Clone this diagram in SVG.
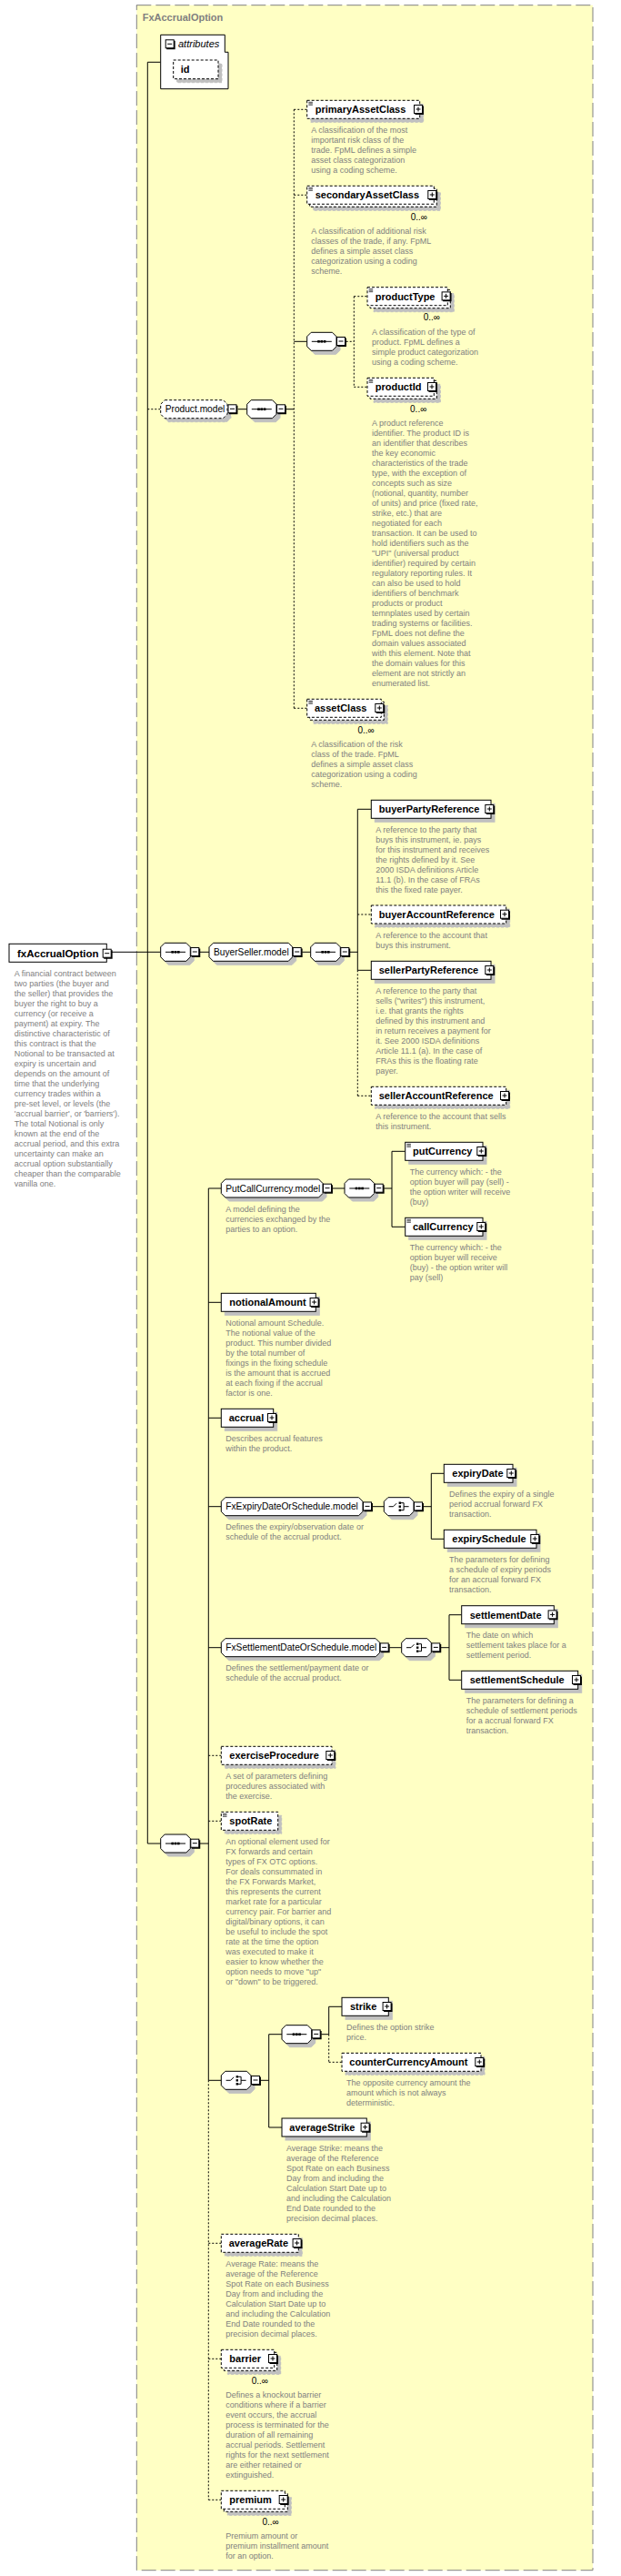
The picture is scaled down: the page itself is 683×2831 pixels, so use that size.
<svg xmlns="http://www.w3.org/2000/svg" width="683" height="2831" viewBox="0 0 683 2831">
<defs>
<style>
.ct{fill:#ffffc4;stroke:#808080;stroke-dasharray:16 5}
.el{fill:#fff;stroke:#000;stroke-width:1}
.op{stroke-dasharray:3 2}
.sd{filter:url(#sh)}
.nm{font-family:"Liberation Sans",Arial,sans-serif;font-weight:bold;font-size:11px;fill:#000}
.gl{font-family:"Liberation Sans",Arial,sans-serif;font-size:10.2px;fill:#000}
.ds{font-family:"Liberation Sans",Arial,sans-serif;font-size:9px;fill:#808080}
.oc{font-family:"Liberation Sans",Arial,sans-serif;font-size:10px;fill:#000;text-anchor:end}
.c{fill:none;stroke:#000;stroke-width:1}
.d{stroke-dasharray:2 2}
</style>
<filter id="sh" x="-10%" y="-20%" width="140%" height="170%" color-interpolation-filters="sRGB">
<feFlood flood-color="#c0c0c0" result="f"/>
<feComposite in="f" in2="SourceAlpha" operator="in" result="s"/>
<feOffset in="s" dx="4" dy="4" result="o"/>
<feMerge><feMergeNode in="o"/><feMergeNode in="SourceGraphic"/></feMerge>
</filter>
<g id="pl"><rect x="0.5" y="0.5" width="9" height="9" fill="#fff" stroke="#000"/><path d="M10.2,1.5V10.2H1.5" fill="none" stroke="#000" stroke-width="1.5"/><path d="M2.5,5H7.5M5,2.5V7.5" stroke="#000" fill="none"/></g>
<g id="mi"><rect x="0.5" y="0.5" width="9" height="9" fill="#fff" stroke="#000"/><path d="M10.2,1.5V10.2H1.5" fill="none" stroke="#000" stroke-width="1.5"/><path d="M2.5,5H7.5" stroke="#000" fill="none"/></g>
<g id="eq"><path d="M0,0.5H4.5M0,2H4.5M0,3.5H4.5" stroke="#000" stroke-width="0.7" fill="none"/></g>
<g id="sq"><path d="M-11,0H11" stroke="#000" fill="none"/><rect x="-4.6" y="-1.3" width="2.6" height="2.6"/><rect x="-1.3" y="-1.3" width="2.6" height="2.6"/><rect x="2" y="-1.3" width="2.6" height="2.6"/></g>
<g id="ch"><path d="M-11,0H-6L-2.5,-3.5M2.4,-4H5.5V4H2.4M5.5,0H11" stroke="#000" fill="none"/><rect x="0" y="-5.2" width="2.4" height="2.4"/><rect x="0" y="-1.2" width="2.4" height="2.4"/><rect x="0" y="2.8" width="2.4" height="2.4"/></g>
</defs>

<rect x="0" y="0" width="683" height="2831" fill="#fff"/>

<g id="type-FxAccrualOption">
<rect class="ct" x="150.3" y="5.7" width="501.7" height="2819"/>
<text x="156.7" y="23" style="font-family:'Liberation Sans',Arial,sans-serif;font-size:11px;font-weight:bold;fill:#808080">FxAccrualOption</text>
</g>

<g id="connectors">
<path class="c" d="M162.3,68.3V2026M162.3,68.3H176.7M122.7,1046.3H176.7M162.3,2026H176.7"/>
<path class="c d" d="M162.3,449.7H176.7"/>
<path class="c" d="M261.7,449.7H271.7M314.7,449.7H323.3M323.3,375.3H337.7"/>
<path class="c d" d="M323.3,120.3V778.3M323.3,120.3H337.7M323.3,214.3H337.7M323.3,778.3H337.7M380.7,375.3H389.3M389.3,325.7V425.3M389.3,325.7H404M389.3,425.3H404"/>
<path class="c" d="M220,1046.3H230M332.3,1046.3H341.7M385,1046.3H393.3M393.3,889.3V1066.3M393.3,889.3H408.3M393.3,1066.3H408.3"/>
<path class="c d" d="M393.3,1066.3V1204.3M393.3,1005H408.3M393.3,1204.3H408.3"/>
<path class="c" d="M220,2026H229.3M229.3,1306V2286.3M229.3,1306H243.3M229.3,1431.3H243.3M229.3,1558.3H243.3M229.3,1655.7H243.3M229.3,1810.7H243.3M229.3,2286.3H243.3"/>
<path class="c d" d="M229.3,2286.3V2747.3M229.3,1929.3H243.3M229.3,2001.3H243.3M229.3,2465.3H243.3M229.3,2592.3H243.3M229.3,2747.3H243.3"/>
<path class="c" d="M365.7,1306H379M422.3,1306H431M431,1265.3V1348.3M431,1265.3H445.7M431,1348.3H445.7"/>
<path class="c" d="M409.7,1655.7H422.3M465.7,1655.7H474.3M474.3,1619.3V1691.3M474.3,1619.3H488.3M474.3,1691.3H488.3"/>
<path class="c" d="M428.3,1810.7H441.7M485,1810.7H494M494,1774.7V1846.3M494,1774.7H507.7M494,1846.3H507.7"/>
<path class="c" d="M286.7,2286.3H295.7M295.7,2235.7V2338M295.7,2235.7H310M295.7,2338H310M353.3,2235.7H361.7M361.7,2205.3V2235.7M361.7,2205.3H376"/>
<path class="c d" d="M361.7,2235.7V2266.3M361.7,2266.3H376"/>
</g>

<g id="fxAccrualOption">
<rect class="el" x="10" y="1037.3" width="107.3" height="20"/>
<text class="nm" x="19" y="1051.5" style="font-size:11.5px">fxAccrualOption</text>
<use href="#mi" x="112.7" y="1042.7"/>
<text class="ds" x="15.7" y="1073.3"><tspan x="15.7">A financial contract between</tspan><tspan x="15.7" dy="11">two parties (the buyer and</tspan><tspan x="15.7" dy="11">the seller) that provides the</tspan><tspan x="15.7" dy="11">buyer the right to buy a</tspan><tspan x="15.7" dy="11">currency (or receive a</tspan><tspan x="15.7" dy="11">payment) at expiry. The</tspan><tspan x="15.7" dy="11">distinctive characteristic of</tspan><tspan x="15.7" dy="11">this contract is that the</tspan><tspan x="15.7" dy="11">Notional to be transacted at</tspan><tspan x="15.7" dy="11">expiry is uncertain and</tspan><tspan x="15.7" dy="11">depends on the amount of</tspan><tspan x="15.7" dy="11">time that the underlying</tspan><tspan x="15.7" dy="11">currency trades within a</tspan><tspan x="15.7" dy="11">pre-set level, or levels (the</tspan><tspan x="15.7" dy="11">'accrual barrier', or 'barriers').</tspan><tspan x="15.7" dy="11">The total Notional is only</tspan><tspan x="15.7" dy="11">known at the end of the</tspan><tspan x="15.7" dy="11">accrual period, and this extra</tspan><tspan x="15.7" dy="11">uncertainty can make an</tspan><tspan x="15.7" dy="11">accrual option substantially</tspan><tspan x="15.7" dy="11">cheaper than the comparable</tspan><tspan x="15.7" dy="11">vanilla one.</tspan></text>
</g>

<g id="attributes">
<path class="el" d="M176.7,38.3H247.3V57.3H251V97.7H176.7Z"/>
<use href="#mi" x="181.7" y="43.3"/>
<text x="196" y="52" style="font-family:'Liberation Sans',Arial,sans-serif;font-size:11px;font-style:italic;fill:#000">attributes</text>
</g>
<g id="attr-id">
<rect class="el op sd" x="190.7" y="66" width="49.3" height="20.7"/>
<text class="nm" x="198.7" y="80">id</text>
</g>

<g id="Product.model">
<polygon class="el op sd" points="181.2,439.7 245.5,439.7 250,444.2 250,455.2 245.5,459.7 181.2,459.7 176.7,455.2 176.7,444.2"/>
<text class="gl" x="181.7" y="453.3">Product.model</text>
<use href="#mi" x="250.5" y="444.3"/>
</g>
<g id="seq-product">
<polygon class="el sd" points="276.2,439.7 299.5,439.7 304,444.2 304,455.2 299.5,459.7 276.2,459.7 271.7,455.2 271.7,444.2"/>
<use href="#sq" x="287.8" y="449.7"/>
<use href="#mi" x="304" y="444.3"/>
</g>
<g id="seq-producttype">
<polygon class="el sd" points="342.2,365.3 365.5,365.3 370,369.8 370,380.8 365.5,385.3 342.2,385.3 337.7,380.8 337.7,369.8"/>
<use href="#sq" x="353.8" y="375.3"/>
<use href="#mi" x="370" y="370"/>
</g>

<g id="primaryAssetClass">
<rect class="el op sd" x="337.7" y="110.3" width="124" height="20"/>
<use href="#eq" x="339.4" y="111.8"/>
<text class="nm" x="346.7" y="124.3">primaryAssetClass</text>
<use href="#pl" x="455" y="115"/>
<text class="ds" x="342.3" y="146"><tspan x="342.3">A classification of the most</tspan><tspan x="342.3" dy="11">important risk class of the</tspan><tspan x="342.3" dy="11">trade. FpML defines a simple</tspan><tspan x="342.3" dy="11">asset class categorization</tspan><tspan x="342.3" dy="11">using a coding scheme.</tspan></text>
</g>

<g id="secondaryAssetClass">
<rect class="el op sd" x="340.7" y="207.3" width="139.6" height="20"/>
<rect class="el op" x="337.7" y="204.3" width="139.6" height="20"/>
<use href="#eq" x="339.4" y="205.8"/>
<text class="nm" x="346.7" y="218.3">secondaryAssetClass</text>
<use href="#pl" x="470.3" y="209"/>
<text class="oc" x="470" y="242">0..∞</text>
<text class="ds" x="342.3" y="257"><tspan x="342.3">A classification of additional risk</tspan><tspan x="342.3" dy="11">classes of the trade, if any. FpML</tspan><tspan x="342.3" dy="11">defines a simple asset class</tspan><tspan x="342.3" dy="11">categorization using a coding</tspan><tspan x="342.3" dy="11">scheme.</tspan></text>
</g>

<g id="productType">
<rect class="el op sd" x="407" y="318.7" width="88.3" height="20"/>
<rect class="el op" x="404" y="315.7" width="88.3" height="20"/>
<use href="#eq" x="405.7" y="317.2"/>
<text class="nm" x="412.7" y="329.7">productType</text>
<use href="#pl" x="485.6" y="320.4"/>
<text class="oc" x="484" y="352">0..∞</text>
<text class="ds" x="409" y="368"><tspan x="409">A classification of the type of</tspan><tspan x="409" dy="11">product. FpML defines a</tspan><tspan x="409" dy="11">simple product categorization</tspan><tspan x="409" dy="11">using a coding scheme.</tspan></text>
</g>

<g id="productId">
<rect class="el op sd" x="407" y="418.3" width="73.3" height="20"/>
<rect class="el op" x="404" y="415.3" width="73.3" height="20"/>
<use href="#eq" x="405.7" y="416.8"/>
<text class="nm" x="412.7" y="429.3">productId</text>
<use href="#pl" x="470" y="420"/>
<text class="oc" x="469.3" y="452.5">0..∞</text>
<text class="ds" x="409" y="468"><tspan x="409">A product reference</tspan><tspan x="409" dy="11">identifier. The product ID is</tspan><tspan x="409" dy="11">an identifier that describes</tspan><tspan x="409" dy="11">the key economic</tspan><tspan x="409" dy="11">characteristics of the trade</tspan><tspan x="409" dy="11">type, with the exception of</tspan><tspan x="409" dy="11">concepts such as size</tspan><tspan x="409" dy="11">(notional, quantity, number</tspan><tspan x="409" dy="11">of units) and price (fixed rate,</tspan><tspan x="409" dy="11">strike, etc.) that are</tspan><tspan x="409" dy="11">negotiated for each</tspan><tspan x="409" dy="11">transaction. It can be used to</tspan><tspan x="409" dy="11">hold identifiers such as the</tspan><tspan x="409" dy="11">"UPI" (universal product</tspan><tspan x="409" dy="11">identifier) required by certain</tspan><tspan x="409" dy="11">regulatory reporting rules. It</tspan><tspan x="409" dy="11">can also be used to hold</tspan><tspan x="409" dy="11">identifiers of benchmark</tspan><tspan x="409" dy="11">products or product</tspan><tspan x="409" dy="11">temnplates used by certain</tspan><tspan x="409" dy="11">trading systems or facilities.</tspan><tspan x="409" dy="11">FpML does not define the</tspan><tspan x="409" dy="11">domain values associated</tspan><tspan x="409" dy="11">with this element. Note that</tspan><tspan x="409" dy="11">the domain values for this</tspan><tspan x="409" dy="11">element are not strictly an</tspan><tspan x="409" dy="11">enumerated list.</tspan></text>
</g>

<g id="assetClass">
<rect class="el op sd" x="340.7" y="771.3" width="81.6" height="20"/>
<rect class="el op" x="337.7" y="768.3" width="81.6" height="20"/>
<use href="#eq" x="339.4" y="769.8"/>
<text class="nm" x="346" y="782.3">assetClass</text>
<use href="#pl" x="412.3" y="773"/>
<text class="oc" x="411.7" y="806">0..∞</text>
<text class="ds" x="342.3" y="820.6"><tspan x="342.3">A classification of the risk</tspan><tspan x="342.3" dy="11">class of the trade. FpML</tspan><tspan x="342.3" dy="11">defines a simple asset class</tspan><tspan x="342.3" dy="11">categorization using a coding</tspan><tspan x="342.3" dy="11">scheme.</tspan></text>
</g>

<g id="seq-main">
<polygon class="el sd" points="181.2,1036.3 204.8,1036.3 209.3,1040.8 209.3,1051.8 204.8,1056.3 181.2,1056.3 176.7,1051.8 176.7,1040.8"/>
<use href="#sq" x="193" y="1046.3"/>
<use href="#mi" x="209.3" y="1041"/>
</g>
<g id="BuyerSeller.model">
<polygon class="el sd" points="234.5,1036.3 317.2,1036.3 321.7,1040.8 321.7,1051.8 317.2,1056.3 234.5,1056.3 230,1051.8 230,1040.8"/>
<text class="gl" x="235" y="1049.9">BuyerSeller.model</text>
<use href="#mi" x="321.7" y="1041"/>
</g>
<g id="seq-buyerseller">
<polygon class="el sd" points="346.2,1036.3 369.8,1036.3 374.3,1040.8 374.3,1051.8 369.8,1056.3 346.2,1056.3 341.7,1051.8 341.7,1040.8"/>
<use href="#sq" x="358" y="1046.3"/>
<use href="#mi" x="374.3" y="1041"/>
</g>

<g id="buyerPartyReference">
<rect class="el sd" x="408.3" y="879.3" width="131.7" height="20"/>
<text class="nm" x="416.7" y="893.3">buyerPartyReference</text>
<use href="#pl" x="533.3" y="884"/>
<text class="ds" x="413.3" y="915"><tspan x="413.3">A reference to the party that</tspan><tspan x="413.3" dy="11">buys this instrument, ie. pays</tspan><tspan x="413.3" dy="11">for this instrument and receives</tspan><tspan x="413.3" dy="11">the rights defined by it. See</tspan><tspan x="413.3" dy="11">2000 ISDA definitions Article</tspan><tspan x="413.3" dy="11">11.1 (b). In the case of FRAs</tspan><tspan x="413.3" dy="11">this the fixed rate payer.</tspan></text>
</g>
<g id="buyerAccountReference">
<rect class="el op sd" x="408.3" y="995" width="148.4" height="20"/>
<text class="nm" x="416.7" y="1009">buyerAccountReference</text>
<use href="#pl" x="550" y="999.7"/>
<text class="ds" x="413.3" y="1030.6"><tspan x="413.3">A reference to the account that</tspan><tspan x="413.3" dy="11">buys this instrument.</tspan></text>
</g>
<g id="sellerPartyReference">
<rect class="el sd" x="408.3" y="1056.3" width="131.7" height="20"/>
<text class="nm" x="416.7" y="1070.3">sellerPartyReference</text>
<use href="#pl" x="533.3" y="1061"/>
<text class="ds" x="413.3" y="1092"><tspan x="413.3">A reference to the party that</tspan><tspan x="413.3" dy="11">sells ("writes") this instrument,</tspan><tspan x="413.3" dy="11">i.e. that grants the rights</tspan><tspan x="413.3" dy="11">defined by this instrument and</tspan><tspan x="413.3" dy="11">in return receives a payment for</tspan><tspan x="413.3" dy="11">it. See 2000 ISDA definitions</tspan><tspan x="413.3" dy="11">Article 11.1 (a). In the case of</tspan><tspan x="413.3" dy="11">FRAs this is the floating rate</tspan><tspan x="413.3" dy="11">payer.</tspan></text>
</g>
<g id="sellerAccountReference">
<rect class="el op sd" x="408.3" y="1194.3" width="148.4" height="20"/>
<text class="nm" x="416.7" y="1208.3">sellerAccountReference</text>
<use href="#pl" x="550" y="1199"/>
<text class="ds" x="413.3" y="1229.6"><tspan x="413.3">A reference to the account that sells</tspan><tspan x="413.3" dy="11">this instrument.</tspan></text>
</g>

<g id="seq-bottom">
<polygon class="el sd" points="181.2,2016 204.8,2016 209.3,2020.5 209.3,2031.5 204.8,2036 181.2,2036 176.7,2031.5 176.7,2020.5"/>
<use href="#sq" x="193" y="2026"/>
<use href="#mi" x="209.3" y="2020.7"/>
</g>

<g id="PutCallCurrency.model">
<polygon class="el sd" points="247.8,1296 350.5,1296 355,1300.5 355,1311.5 350.5,1316 247.8,1316 243.3,1311.5 243.3,1300.5"/>
<text class="gl" x="248.3" y="1309.6">PutCallCurrency.model</text>
<use href="#mi" x="355" y="1300.7"/>
<text class="ds" x="248.3" y="1332"><tspan x="248.3">A model defining the</tspan><tspan x="248.3" dy="11">currencies exchanged by the</tspan><tspan x="248.3" dy="11">parties to an option.</tspan></text>
</g>
<g id="seq-putcall">
<polygon class="el sd" points="383.5,1296 407.2,1296 411.7,1300.5 411.7,1311.5 407.2,1316 383.5,1316 379,1311.5 379,1300.5"/>
<use href="#sq" x="395.3" y="1306"/>
<use href="#mi" x="411.7" y="1300.7"/>
</g>
<g id="putCurrency">
<rect class="el sd" x="445.7" y="1255.3" width="85.3" height="20"/>
<use href="#eq" x="447.4" y="1256.8"/>
<text class="nm" x="454" y="1269.3">putCurrency</text>
<use href="#pl" x="524.3" y="1260"/>
<text class="ds" x="450.7" y="1291.3"><tspan x="450.7">The currency which: - the</tspan><tspan x="450.7" dy="11">option buyer will pay (sell) -</tspan><tspan x="450.7" dy="11">the option writer will receive</tspan><tspan x="450.7" dy="11">(buy)</tspan></text>
</g>
<g id="callCurrency">
<rect class="el sd" x="445.7" y="1338.3" width="85.3" height="20"/>
<use href="#eq" x="447.4" y="1339.8"/>
<text class="nm" x="454" y="1352.3">callCurrency</text>
<use href="#pl" x="524.3" y="1343"/>
<text class="ds" x="450.7" y="1374"><tspan x="450.7">The currency which: - the</tspan><tspan x="450.7" dy="11">option buyer will receive</tspan><tspan x="450.7" dy="11">(buy) - the option writer will</tspan><tspan x="450.7" dy="11">pay (sell)</tspan></text>
</g>

<g id="notionalAmount">
<rect class="el sd" x="243.3" y="1421.3" width="104" height="20"/>
<text class="nm" x="252.3" y="1435.3">notionalAmount</text>
<use href="#pl" x="340.6" y="1426"/>
<text class="ds" x="248.3" y="1457"><tspan x="248.3">Notional amount Schedule.</tspan><tspan x="248.3" dy="11">The notional value of the</tspan><tspan x="248.3" dy="11">product. This number divided</tspan><tspan x="248.3" dy="11">by the total number of</tspan><tspan x="248.3" dy="11">fixings in the fixing schedule</tspan><tspan x="248.3" dy="11">is the amount that is accrued</tspan><tspan x="248.3" dy="11">at each fixing if the accrual</tspan><tspan x="248.3" dy="11">factor is one.</tspan></text>
</g>
<g id="accrual">
<rect class="el sd" x="243.3" y="1548.3" width="57.4" height="20"/>
<text class="nm" x="251.7" y="1562.3">accrual</text>
<use href="#pl" x="294" y="1553"/>
<text class="ds" x="248.3" y="1584"><tspan x="248.3">Describes accrual features</tspan><tspan x="248.3" dy="11">within the product.</tspan></text>
</g>

<g id="FxExpiryDateOrSchedule.model">
<polygon class="el sd" points="247.8,1645.7 394.5,1645.7 399,1650.2 399,1661.2 394.5,1665.7 247.8,1665.7 243.3,1661.2 243.3,1650.2"/>
<text class="gl" x="248.3" y="1659.3">FxExpiryDateOrSchedule.model</text>
<use href="#mi" x="399" y="1650.4"/>
<text class="ds" x="248.3" y="1681"><tspan x="248.3">Defines the expiry/observation date or</tspan><tspan x="248.3" dy="11">schedule of the accrual product.</tspan></text>
</g>
<g id="choice-expiry">
<polygon class="el sd" points="426.8,1645.7 450.5,1645.7 455,1650.2 455,1661.2 450.5,1665.7 426.8,1665.7 422.3,1661.2 422.3,1650.2"/>
<use href="#ch" x="438.6" y="1655.7"/>
<use href="#mi" x="455" y="1650.4"/>
</g>
<g id="expiryDate">
<rect class="el sd" x="488.3" y="1609.3" width="75.7" height="20"/>
<text class="nm" x="497.3" y="1623.3">expiryDate</text>
<use href="#pl" x="557.3" y="1614"/>
<text class="ds" x="494" y="1645"><tspan x="494">Defines the expiry of a single</tspan><tspan x="494" dy="11">period accrual forward FX</tspan><tspan x="494" dy="11">transaction.</tspan></text>
</g>
<g id="expirySchedule">
<rect class="el sd" x="488.3" y="1681.3" width="101.7" height="20"/>
<text class="nm" x="497.3" y="1695.3">expirySchedule</text>
<use href="#pl" x="583.3" y="1686"/>
<text class="ds" x="494" y="1717"><tspan x="494">The parameters for defining</tspan><tspan x="494" dy="11">a schedule of expiry periods</tspan><tspan x="494" dy="11">for an accrual forward FX</tspan><tspan x="494" dy="11">transaction.</tspan></text>
</g>

<g id="FxSettlementDateOrSchedule.model">
<polygon class="el sd" points="247.8,1800.7 413.2,1800.7 417.7,1805.2 417.7,1816.2 413.2,1820.7 247.8,1820.7 243.3,1816.2 243.3,1805.2"/>
<text class="gl" x="248.3" y="1814.3">FxSettlementDateOrSchedule.model</text>
<use href="#mi" x="417.7" y="1805.4"/>
<text class="ds" x="248.3" y="1836"><tspan x="248.3">Defines the settlement/payment date or</tspan><tspan x="248.3" dy="11">schedule of the accrual product.</tspan></text>
</g>
<g id="choice-settlement">
<polygon class="el sd" points="446.2,1800.7 469.8,1800.7 474.3,1805.2 474.3,1816.2 469.8,1820.7 446.2,1820.7 441.7,1816.2 441.7,1805.2"/>
<use href="#ch" x="458" y="1810.7"/>
<use href="#mi" x="474.3" y="1805.4"/>
</g>
<g id="settlementDate">
<rect class="el sd" x="507.7" y="1764.7" width="101.6" height="20"/>
<text class="nm" x="516.7" y="1778.7">settlementDate</text>
<use href="#pl" x="602.6" y="1769.4"/>
<text class="ds" x="512.7" y="1799.6"><tspan x="512.7">The date on which</tspan><tspan x="512.7" dy="11">settlement takes place for a</tspan><tspan x="512.7" dy="11">settlement period.</tspan></text>
</g>
<g id="settlementSchedule">
<rect class="el sd" x="507.7" y="1836.3" width="128" height="20"/>
<text class="nm" x="516.7" y="1850.3">settlementSchedule</text>
<use href="#pl" x="629" y="1841"/>
<text class="ds" x="512.7" y="1872"><tspan x="512.7">The parameters for defining a</tspan><tspan x="512.7" dy="11">schedule of settlement periods</tspan><tspan x="512.7" dy="11">for a accrual forward FX</tspan><tspan x="512.7" dy="11">transaction.</tspan></text>
</g>

<g id="exerciseProcedure">
<rect class="el op sd" x="243.3" y="1919.3" width="121.7" height="20"/>
<text class="nm" x="252.3" y="1933.3">exerciseProcedure</text>
<use href="#pl" x="358.3" y="1924"/>
<text class="ds" x="248.3" y="1955.3"><tspan x="248.3">A set of parameters defining</tspan><tspan x="248.3" dy="11">procedures associated with</tspan><tspan x="248.3" dy="11">the exercise.</tspan></text>
</g>
<g id="spotRate">
<rect class="el op sd" x="243.3" y="1991.3" width="62.4" height="20"/>
<use href="#eq" x="245" y="1992.8"/>
<text class="nm" x="252.3" y="2005.3">spotRate</text>
<text class="ds" x="248.3" y="2027"><tspan x="248.3">An optional element used for</tspan><tspan x="248.3" dy="11">FX forwards and certain</tspan><tspan x="248.3" dy="11">types of FX OTC options.</tspan><tspan x="248.3" dy="11">For deals consummated in</tspan><tspan x="248.3" dy="11">the FX Forwards Market,</tspan><tspan x="248.3" dy="11">this represents the current</tspan><tspan x="248.3" dy="11">market rate for a particular</tspan><tspan x="248.3" dy="11">currency pair. For barrier and</tspan><tspan x="248.3" dy="11">digital/binary options, it can</tspan><tspan x="248.3" dy="11">be useful to include the spot</tspan><tspan x="248.3" dy="11">rate at the time the option</tspan><tspan x="248.3" dy="11">was executed to make it</tspan><tspan x="248.3" dy="11">easier to know whether the</tspan><tspan x="248.3" dy="11">option needs to move "up"</tspan><tspan x="248.3" dy="11">or "down" to be triggered.</tspan></text>
</g>

<g id="choice-strike">
<polygon class="el sd" points="247.8,2276.3 271.5,2276.3 276,2280.8 276,2291.8 271.5,2296.3 247.8,2296.3 243.3,2291.8 243.3,2280.8"/>
<use href="#ch" x="259.6" y="2286.3"/>
<use href="#mi" x="276" y="2281"/>
</g>
<g id="seq-strike">
<polygon class="el sd" points="314.5,2225.7 338.2,2225.7 342.7,2230.2 342.7,2241.2 338.2,2245.7 314.5,2245.7 310,2241.2 310,2230.2"/>
<use href="#sq" x="326.3" y="2235.7"/>
<use href="#mi" x="342.7" y="2230.4"/>
</g>
<g id="strike">
<rect class="el sd" x="376" y="2195.3" width="51.3" height="20"/>
<text class="nm" x="385" y="2209.3">strike</text>
<use href="#pl" x="420.6" y="2200"/>
<text class="ds" x="381" y="2231"><tspan x="381">Defines the option strike</tspan><tspan x="381" dy="11">price.</tspan></text>
</g>
<g id="counterCurrencyAmount">
<rect class="el op sd" x="376" y="2256.3" width="153" height="20"/>
<text class="nm" x="384.3" y="2270.3">counterCurrencyAmount</text>
<use href="#pl" x="522.3" y="2261"/>
<text class="ds" x="381" y="2291.6"><tspan x="381">The opposite currency amount the</tspan><tspan x="381" dy="11">amount which is not always</tspan><tspan x="381" dy="11">deterministic.</tspan></text>
</g>
<g id="averageStrike">
<rect class="el sd" x="310" y="2328" width="93.3" height="20"/>
<text class="nm" x="318.3" y="2342">averageStrike</text>
<use href="#pl" x="396.6" y="2332.7"/>
<text class="ds" x="315" y="2364"><tspan x="315">Average Strike: means the</tspan><tspan x="315" dy="11">average of the Reference</tspan><tspan x="315" dy="11">Spot Rate on each Business</tspan><tspan x="315" dy="11">Day from and including the</tspan><tspan x="315" dy="11">Calculation Start Date up to</tspan><tspan x="315" dy="11">and including the Calculation</tspan><tspan x="315" dy="11">End Date rounded to the</tspan><tspan x="315" dy="11">precision decimal places.</tspan></text>
</g>

<g id="averageRate">
<rect class="el op sd" x="243.3" y="2455.3" width="85" height="20"/>
<text class="nm" x="251.7" y="2469.3">averageRate</text>
<use href="#pl" x="321.6" y="2460"/>
<text class="ds" x="248.3" y="2491"><tspan x="248.3">Average Rate: means the</tspan><tspan x="248.3" dy="11">average of the Reference</tspan><tspan x="248.3" dy="11">Spot Rate on each Business</tspan><tspan x="248.3" dy="11">Day from and including the</tspan><tspan x="248.3" dy="11">Calculation Start Date up to</tspan><tspan x="248.3" dy="11">and including the Calculation</tspan><tspan x="248.3" dy="11">End Date rounded to the</tspan><tspan x="248.3" dy="11">precision decimal places.</tspan></text>
</g>
<g id="barrier">
<rect class="el op sd" x="246.3" y="2585.3" width="58.4" height="20"/>
<rect class="el op" x="243.3" y="2582.3" width="58.4" height="20"/>
<text class="nm" x="252.3" y="2596.3">barrier</text>
<use href="#pl" x="295" y="2587"/>
<text class="oc" x="295" y="2619.5">0..∞</text>
<text class="ds" x="248.3" y="2635"><tspan x="248.3">Defines a knockout barrier</tspan><tspan x="248.3" dy="11">conditions where if a barrier</tspan><tspan x="248.3" dy="11">event occurs, the accrual</tspan><tspan x="248.3" dy="11">process is terminated for the</tspan><tspan x="248.3" dy="11">duration of all remaining</tspan><tspan x="248.3" dy="11">accrual periods. Settlement</tspan><tspan x="248.3" dy="11">rights for the next settlement</tspan><tspan x="248.3" dy="11">are either retained or</tspan><tspan x="248.3" dy="11">extinguished.</tspan></text>
</g>
<g id="premium">
<rect class="el op sd" x="246.3" y="2740.3" width="70" height="20"/>
<rect class="el op" x="243.3" y="2737.3" width="70" height="20"/>
<text class="nm" x="252.3" y="2751.3">premium</text>
<use href="#pl" x="306.7" y="2742"/>
<text class="oc" x="306.7" y="2774.5">0..∞</text>
<text class="ds" x="248.3" y="2790"><tspan x="248.3">Premium amount or</tspan><tspan x="248.3" dy="11">premium installment amount</tspan><tspan x="248.3" dy="11">for an option.</tspan></text>
</g>
</svg>
